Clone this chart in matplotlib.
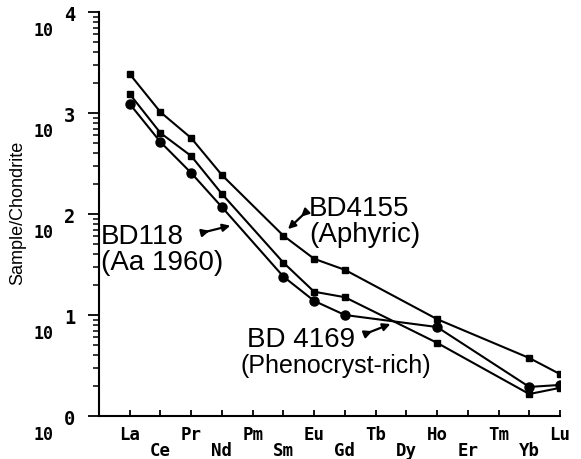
import numpy as np
import matplotlib
matplotlib.use("Agg")
import matplotlib.pyplot as plt
from matplotlib.transforms import ScaledTranslation, blended_transform_factory

# ---------------- data ----------------
elements = ["La", "Ce", "Pr", "Nd", "Pm", "Sm", "Eu", "Gd",
            "Tb", "Dy", "Ho", "Er", "Tm", "Yb", "Lu"]
nan = np.nan
bd4155 = [2430, 1020, 565, 243, nan, 61, 36, 28, nan, nan, 9.1, nan, nan, 3.75, 2.6]
bd4169 = [1540, 634, 375, 158, nan, 33, 17, 15, nan, nan, 5.3, nan, nan, 1.65, 1.9]
bd118 = [1230, 516, 255, 117, nan, 24, 13.8, 10, nan, nan, 7.6, nan, nan, 1.94, 2.03]
ytick_exponents = [0, 1, 2, 3, 4]

W, H = 581, 459
fig = plt.figure(figsize=(W / 100, H / 100), dpi=100)
ax = fig.add_axes([99 / W, 1 - 416 / H, (560 - 99) / W, (416 - 12) / H])


def px(x, y):
    return x / W, 1 - y / H


xpos = np.arange(1, len(elements) + 1)
for vals, mk, ms in [(bd4155, "s", 4.5), (bd4169, "s", 4.5), (bd118, "o", 6.5)]:
    v = np.array(vals, dtype=float)
    m = ~np.isnan(v)
    ax.plot(xpos[m], v[m], color="black", lw=1.5, marker=mk, ms=ms,
            markerfacecolor="black", markeredgecolor="black")

ax.set_yscale("log")
ax.set_ylim(1, 1e4)
ax.set_xlim(0, 15)

for s in ["top", "right"]:
    ax.spines[s].set_visible(False)
for s in ["left", "bottom"]:
    ax.spines[s].set_linewidth(1.5)

# y ticks
ax.set_yticks([10.0 ** k for k in ytick_exponents])
ax.set_yticklabels([""] * len(ytick_exponents))
ax.yaxis.set_minor_locator(matplotlib.ticker.LogLocator(base=10, subs=np.arange(2, 10)))
ax.yaxis.set_minor_formatter(matplotlib.ticker.NullFormatter())
ax.tick_params(axis="y", which="major", direction="out", length=8, width=1.3)
ax.tick_params(axis="y", which="minor", direction="out", length=4.3, width=1.1)

trans = blended_transform_factory(ax.transAxes, ax.transData)
for k in ytick_exponents:
    ax.annotate("10", xy=(0, 10.0 ** k), xycoords=trans, xytext=(-33, -13.7),
                textcoords="offset points", ha="right", va="center",
                fontsize=12, fontweight="bold", family="DejaVu Sans Mono")
    ax.annotate(str(k), xy=(0, 10.0 ** k), xycoords=trans, xytext=(-21, -2.2),
                textcoords="offset points", ha="center", va="center",
                fontsize=13.5, fontweight="bold", family="DejaVu Sans Mono")

# x ticks
ax.set_xticks(xpos)
ax.set_xticklabels(elements, fontsize=12.5, fontweight="bold", family="DejaVu Sans Mono")
ax.tick_params(axis="x", which="major", direction="in", length=4.5, width=1.3, pad=7)
ax.tick_params(axis="x", which="minor", length=0)
for i, lab in enumerate(ax.get_xticklabels()):
    if i % 2 == 1:
        lab.set_transform(lab.get_transform() + ScaledTranslation(0, -16 / 100, fig.dpi_scale_trans))

fig.text(*px(18, 213), "Sample/Chondrite", rotation=90, ha="center", va="center",
         fontsize=13, family="Liberation Sans")

# annotations
tf = dict(family="Liberation Sans", color="black", ha="left", va="baseline")
fig.text(*px(101, 244), "BD118", fontsize=20, **tf)
fig.text(*px(101, 270), "(Aa 1960)", fontsize=20, **tf)
fig.text(*px(309, 216), "BD4155", fontsize=20, **tf)
fig.text(*px(309, 242), "(Aphyric)", fontsize=20, **tf)
fig.text(*px(247, 347), "BD 4169", fontsize=20, **tf)
fig.text(*px(240, 373), "(Phenocryst-rich)", fontsize=18, **tf)


def arrow(x0, y0, x1, y1):
    fig.add_artist(matplotlib.patches.FancyArrowPatch(
        px(x0, y0), px(x1, y1), transform=fig.transFigure,
        arrowstyle="-|>", mutation_scale=11, lw=1.6, color="black"))
    fx = x0 + 0.35 * (x1 - x0)
    fy = y0 + 0.35 * (y1 - y0)
    fig.add_artist(matplotlib.patches.FancyArrowPatch(
        px(x0, y0), px(fx, fy), transform=fig.transFigure,
        arrowstyle="-|>", mutation_scale=11, lw=1.6, color="black"))


arrow(201, 233, 233, 225)
arrow(306, 212, 286, 231)
arrow(365, 334, 393, 323)

fig.savefig("out.png", dpi=100)
